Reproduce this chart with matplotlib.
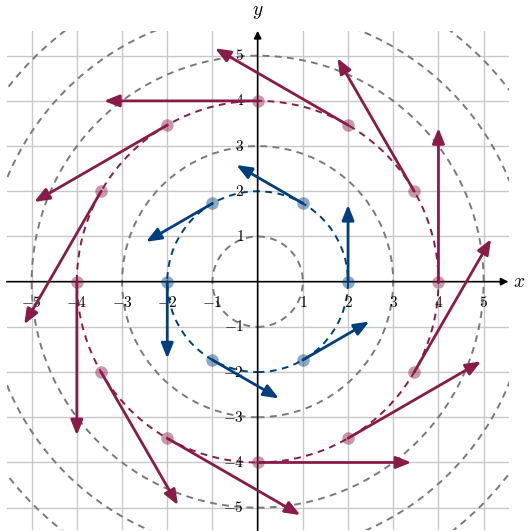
import matplotlib
matplotlib.use('Agg')
import numpy as np
import matplotlib.pyplot as plt
from matplotlib.patches import Circle

plt.rcParams['mathtext.fontset'] = 'cm'

# points du champ (rayon 2, en bleu)
bleu_x = [2, 1, -1, -2, -1, 1]
bleu_y = [0, 1.732, 1.732, 0, -1.732, -1.732]
bleu_u = [0, -1.47, -1.47, 0, 1.47, 1.47]
bleu_v = [1.7, 0.85, -0.85, -1.7, -0.85, 0.85]

# points du champ (rayon 4, en rouge)
rouge_x = [4, 3.464, 2, 0, -2, -3.464, -4, -3.464, -2, 0, 2, 3.464]
rouge_y = [0, 2, 3.464, 4, 3.464, 2, 0, -2, -3.464, -4, -3.464, -2]
rouge_u = [0, -1.7, -2.944, -3.4, -2.944, -1.7, 0, 1.7, 2.944, 3.4, 2.944, 1.7]
rouge_v = [3.4, 2.944, 1.7, 0, -1.7, -2.944, -3.4, -2.944, -1.7, 0, 1.7, 2.944]

rayons_gris = [1, 3, 5, 6, 7]
rayon_bleu = 2
rayon_rouge = 4
graduations = [-5, -4, -3, -2, -1, 1, 2, 3, 4, 5]

bleu = '#003f7c'
rouge = '#8a1b48'
gris = '#7a7a7a'

fig = plt.figure(figsize=(5.28, 5.31), dpi=100)
ax = fig.add_axes([6.8/528, 0.7/531, 501.7/528, 499.5/531])
ax.set_xlim(-5.55, 5.55)
ax.set_ylim(-5.5, 5.55)
ax.set_aspect('equal')
ax.axis('off')

# grille
for g in graduations:
    ax.axvline(g, color='#c8c8c8', lw=1, zorder=0)
    ax.axhline(g, color='#c8c8c8', lw=1, zorder=0)

# cercles
for r in rayons_gris:
    ax.add_patch(Circle((0, 0), r, fill=False, ec=gris, lw=1.4, ls=(0, (3.5, 2.8)), zorder=1))
ax.add_patch(Circle((0, 0), rayon_bleu, fill=False, ec=bleu, lw=1.4, ls=(0, (3.5, 2.8)), zorder=1))
ax.add_patch(Circle((0, 0), rayon_rouge, fill=False, ec=rouge, lw=1.4, ls=(0, (3.5, 2.8)), zorder=1))

# axes
ax.annotate('', xy=(5.55, 0), xytext=(-5.55, 0),
            arrowprops=dict(arrowstyle='-|>', lw=1.2, color='black', shrinkA=0, shrinkB=0, mutation_scale=11), zorder=2)
ax.annotate('', xy=(0, 5.55), xytext=(0, -5.5),
            arrowprops=dict(arrowstyle='-|>', lw=1.2, color='black', shrinkA=0, shrinkB=0, mutation_scale=11), zorder=2)
ax.text(5.78, 0, '$x$', fontsize=14, ha='center', va='center', clip_on=False)
ax.text(0, 5.97, '$y$', fontsize=14, ha='center', va='center', clip_on=False)

for g in graduations:
    ax.text(g, -0.47, '$%d$' % g, fontsize=11, ha='center', va='center', zorder=2)
    ax.text(-0.3, g, '$%d$' % g, fontsize=11, ha='right', va='center', zorder=2)

# vecteurs
def fleches(xs, ys, us, vs, couleur):
    for x, y, u, v in zip(xs, ys, us, vs):
        ax.annotate('', xy=(x + u, y + v), xytext=(x, y),
                    arrowprops=dict(arrowstyle='-|>,head_length=0.7,head_width=0.28', lw=2,
                                    color=couleur, shrinkA=0, shrinkB=0, mutation_scale=13), zorder=3)
    ax.plot(xs, ys, 'o', color=couleur, alpha=0.45, ms=9, mec='none', zorder=4)

fleches(bleu_x, bleu_y, bleu_u, bleu_v, bleu)
fleches(rouge_x, rouge_y, rouge_u, rouge_v, rouge)

fig.savefig('out.png', dpi=100)
